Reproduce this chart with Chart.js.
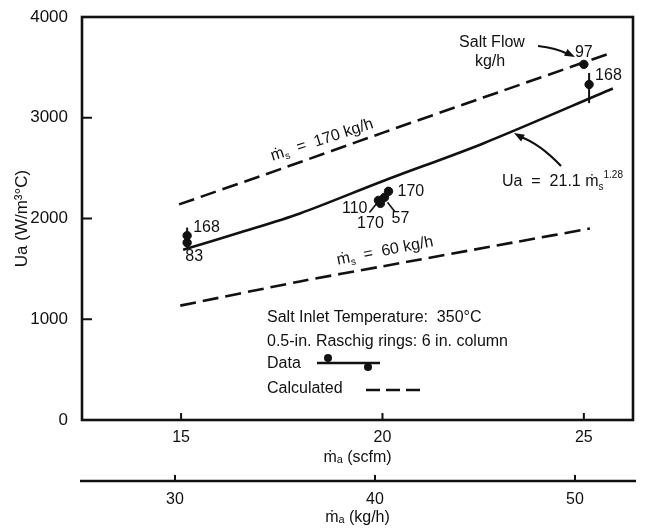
<!DOCTYPE html>
<html>
<head>
<meta charset="utf-8">
<script src="https://cdn.jsdelivr.net/npm/chart.js@4.4.1/dist/chart.umd.min.js"></script>
<style>
html, body { margin: 0; background: #fff; }
</style>
</head>
<body>
<canvas id="chart" width="649" height="529"></canvas>
<script>
// Ua against air flow (scfm), with the kg/h scale under it
const xTicks = [15, 20, 25];
const x2Ticks = [30, 40, 50];
const yTicks = [0, 1000, 2000, 3000, 4000];

// calculated, salt flow 170 kg/h
const hiX = [14.95, 17.5, 20, 22.5, 25.65];
const hiY = [2140, 2495, 2850, 3200, 3640];
// fit Ua = 21.1 ms^1.28
const fitX = [15.05, 16.5, 17.95, 20, 22.5, 25.72];
const fitY = [1690, 1865, 2050, 2370, 2745, 3290];
// calculated, salt flow 60 kg/h
const loX = [14.98, 17.95, 20, 23.36, 25.15];
const loY = [1135, 1375, 1525, 1770, 1900];

// measured points, tagged with salt flow (kg/h)
const dataX = [15.15, 15.15, 19.9, 19.95, 20.05, 20.15, 25.0, 25.13];
const dataY = [1830, 1760, 2180, 2150, 2210, 2270, 3530, 3330];
const dataTag = ['168', '83', '110', '170', '57', '170', '97', '168'];

// error bars
const barX = [15.15, 25.13];
const barLo = [1710, 3145];
const barHi = [1910, 3445];

const INK = '#111';
const FONT = '"Liberation Sans", Arial, sans-serif';

function pts(xs, ys) {
    return xs.map((x, i) => ({ x: x, y: ys[i] }));
}

// text with sub/superscript pieces: parts = [[text, 'n'|'sub'|'sup'], ...]
function partsWidth(ctx, parts, size) {
    let w = 0;
    parts.forEach(p => {
        ctx.font = (p[1] === 'n' ? size : Math.round(size * 0.62)) + 'px ' + FONT;
        w += ctx.measureText(p[0]).width;
    });
    return w;
}

function drawParts(ctx, parts, x, y, size) {
    ctx.textBaseline = 'middle';
    ctx.textAlign = 'left';
    parts.forEach(p => {
        let dy = 0;
        if (p[1] === 'n') {
            ctx.font = size + 'px ' + FONT;
        } else {
            ctx.font = Math.round(size * 0.62) + 'px ' + FONT;
            dy = p[1] === 'sub' ? size * 0.3 : -size * 0.4;
        }
        ctx.fillText(p[0], x, y + dy);
        x += ctx.measureText(p[0]).width;
    });
}

function arrowHead(ctx, x, y, ang) {
    ctx.beginPath();
    ctx.moveTo(x, y);
    ctx.lineTo(x - 11 * Math.cos(ang - 0.35), y - 11 * Math.sin(ang - 0.35));
    ctx.lineTo(x - 11 * Math.cos(ang + 0.35), y - 11 * Math.sin(ang + 0.35));
    ctx.closePath();
    ctx.fill();
}

// label offsets from the point, in pixels
const tagPos = [[6, -8, 'left'], [7, 14, 'center'], [-11, 8, 'right'], [-10, 20, 'center'],
                [16, 21, 'center'], [9, 0, 'left'], [0, -12, 'center'], [6, -9, 'left']];

const decor = {
    id: 'decor',
    afterDraw(chart) {
        const ctx = chart.ctx;
        const a = chart.chartArea;
        const sx = chart.scales.x, sy = chart.scales.y, s2 = chart.scales.x2;
        ctx.save();
        ctx.strokeStyle = INK;
        ctx.fillStyle = INK;

        // frame
        ctx.lineWidth = 2.6;
        ctx.strokeRect(a.left, a.top, a.right - a.left, a.bottom - a.top);

        // inward ticks
        ctx.lineWidth = 2;
        xTicks.forEach(v => {
            const px = sx.getPixelForValue(v);
            ctx.beginPath(); ctx.moveTo(px, a.bottom); ctx.lineTo(px, a.bottom - 7); ctx.stroke();
        });
        yTicks.forEach(v => {
            if (v === 0 || v === 4000) return;
            const py = sy.getPixelForValue(v);
            ctx.beginPath(); ctx.moveTo(a.left, py); ctx.lineTo(a.left + 10, py); ctx.stroke();
        });

        // second axis line
        ctx.lineWidth = 2.6;
        ctx.beginPath(); ctx.moveTo(a.left - 2, s2.top); ctx.lineTo(a.right + 3, s2.top); ctx.stroke();
        ctx.lineWidth = 2;
        x2Ticks.forEach(v => {
            const px = s2.getPixelForValue(v);
            ctx.beginPath(); ctx.moveTo(px, s2.top); ctx.lineTo(px, s2.top - 6); ctx.stroke();
        });

        // error bars
        ctx.lineWidth = 2;
        barX.forEach((x, i) => {
            const px = sx.getPixelForValue(x);
            ctx.beginPath();
            ctx.moveTo(px, sy.getPixelForValue(barLo[i]));
            ctx.lineTo(px, sy.getPixelForValue(barHi[i]));
            ctx.stroke();
        });

        // point tags
        ctx.font = '16px ' + FONT;
        ctx.textBaseline = 'middle';
        dataTag.forEach((t, i) => {
            const px = sx.getPixelForValue(dataX[i]), py = sy.getPixelForValue(dataY[i]);
            ctx.textAlign = tagPos[i][2];
            ctx.fillText(t, px + tagPos[i][0], py + tagPos[i][1]);
        });
        // leaders in the cluster at 20 scfm
        ctx.lineWidth = 1.6;
        let p3x = sx.getPixelForValue(dataX[3]), p3y = sy.getPixelForValue(dataY[3]);
        ctx.beginPath(); ctx.moveTo(p3x - 11, p3y + 9); ctx.lineTo(p3x - 3, p3y - 1); ctx.stroke();
        let p4x = sx.getPixelForValue(dataX[4]), p4y = sy.getPixelForValue(dataY[4]);
        ctx.beginPath(); ctx.moveTo(p4x + 10, p4y + 14); ctx.lineTo(p4x + 3, p4y + 5); ctx.stroke();

        // labels on the calculated lines
        const hiLbl = [['ṁ', 'n'], ['s', 'sub'], ['  =  170 kg/h', 'n']];
        ctx.save();
        ctx.translate(322, 140);
        ctx.rotate(-18 * Math.PI / 180);
        drawParts(ctx, hiLbl, -partsWidth(ctx, hiLbl, 16) / 2, 0, 16);
        ctx.restore();
        const loLbl = [['ṁ', 'n'], ['s', 'sub'], ['  =  60 kg/h', 'n']];
        ctx.save();
        ctx.translate(385, 251);
        ctx.rotate(-11 * Math.PI / 180);
        drawParts(ctx, loLbl, -partsWidth(ctx, loLbl, 16) / 2, 0, 16);
        ctx.restore();

        // salt flow note and arrow
        ctx.font = '16px ' + FONT;
        ctx.textAlign = 'center';
        ctx.fillText('Salt Flow', 492, 43);
        ctx.fillText('kg/h', 490, 62);
        ctx.lineWidth = 2.2;
        ctx.beginPath(); ctx.moveTo(538, 46); ctx.quadraticCurveTo(556, 48, 568, 54); ctx.stroke();
        arrowHead(ctx, 575, 57, Math.atan2(4, 8));

        // equation and arrow
        drawParts(ctx, [['Ua  =  21.1 ṁ', 'n'], ['s', 'sub'], ['1.28', 'sup']], 502, 182, 16);
        ctx.beginPath(); ctx.moveTo(561, 166); ctx.quadraticCurveTo(540, 144, 521, 137); ctx.stroke();
        arrowHead(ctx, 514, 133, Math.atan2(-4, -7));

        // notes and key
        ctx.font = '16px ' + FONT;
        ctx.textAlign = 'left';
        ctx.fillText('Salt Inlet Temperature:  350°C', 267, 318);
        ctx.fillText('0.5-in. Raschig rings: 6 in. column', 267, 342);
        ctx.fillText('Data', 267, 364);
        ctx.fillText('Calculated', 267, 389);
        ctx.lineWidth = 2.6;
        ctx.beginPath(); ctx.moveTo(317, 363); ctx.lineTo(380, 363); ctx.stroke();
        ctx.beginPath(); ctx.arc(328, 358, 4, 0, Math.PI * 2); ctx.fill();
        ctx.beginPath(); ctx.arc(368, 367, 4, 0, Math.PI * 2); ctx.fill();
        ctx.setLineDash([14, 6]);
        ctx.beginPath(); ctx.moveTo(366, 390); ctx.lineTo(426, 390); ctx.stroke();
        ctx.restore();
    }
};

const lineStyle = { showLine: true, borderColor: INK, borderWidth: 2.6, pointRadius: 0, tension: 0.3 };

new Chart(document.getElementById('chart'), {
    type: 'scatter',
    data: {
        datasets: [
            Object.assign({ data: pts(hiX, hiY), borderDash: [16, 7] }, lineStyle),
            Object.assign({ data: pts(fitX, fitY) }, lineStyle),
            Object.assign({ data: pts(loX, loY), borderDash: [16, 7] }, lineStyle),
            { data: pts(dataX, dataY), backgroundColor: INK, borderColor: INK, pointRadius: 4.2, showLine: false }
        ]
    },
    plugins: [decor],
    options: {
        responsive: false,
        devicePixelRatio: 1,
        animation: false,
        layout: { padding: { left: 0, right: 16, top: 17, bottom: 0 } },
        plugins: { legend: { display: false }, tooltip: { enabled: false } },
        scales: {
            x: {
                type: 'linear', position: 'bottom', min: 12.54, max: 26.22,
                afterBuildTicks: s => { s.ticks = xTicks.map(v => ({ value: v })); },
                afterFit: s => { s.height = 61; },
                grid: { display: false }, border: { display: false },
                ticks: { color: INK, padding: 0, font: { family: FONT, size: 16 } },
                title: { display: true, text: 'ṁₐ (scfm)', color: INK, padding: { top: 0, bottom: 14 }, font: { family: FONT, size: 16 } }
            },
            x2: {
                type: 'linear', position: 'bottom', min: 25.35, max: 52.9,
                afterBuildTicks: s => { s.ticks = x2Ticks.map(v => ({ value: v })); },
                afterFit: s => { s.height = 48; },
                grid: { display: false }, border: { display: false },
                ticks: { color: INK, padding: 1, font: { family: FONT, size: 16 } },
                title: { display: true, text: 'ṁₐ (kg/h)', color: INK, padding: { top: 0, bottom: 2 }, font: { family: FONT, size: 16 } }
            },
            y: {
                min: 0, max: 4000,
                afterBuildTicks: s => { s.ticks = yTicks.map(v => ({ value: v })); },
                afterFit: s => { s.width = 82; },
                grid: { display: false }, border: { display: false },
                ticks: { color: INK, padding: 6, font: { family: FONT, size: 17 }, callback: v => String(v) },
                title: { display: true, text: 'Ua (W/m³°C)', color: INK, padding: { top: 12, bottom: 0 }, font: { family: FONT, size: 17 } }
            }
        }
    }
});
</script>
</body>
</html>
